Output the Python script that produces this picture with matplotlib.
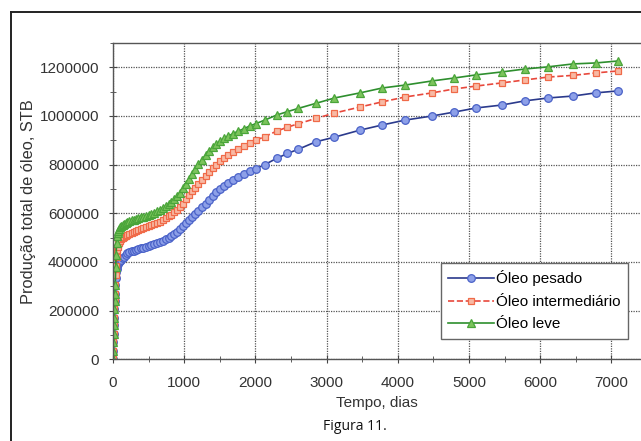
import numpy as np
import matplotlib.pyplot as plt
from matplotlib.lines import Line2D
from matplotlib.ticker import MultipleLocator, FormatStrFormatter

plt.rcParams['font.family'] = ['Liberation Sans', 'DejaVu Sans']

# tempo (dias) dos passos de simulacao
tempo = [0, 3, 6, 9, 12, 15, 19, 23, 27, 32, 38, 44, 50, 58, 66, 75, 88, 102, 118, 135,
         155, 178, 203, 230, 260, 290, 320, 355, 390, 425, 460, 500, 540, 580, 620, 660,
         700, 740, 780, 820, 860, 900, 940, 980, 1020, 1065, 1110, 1155, 1200, 1250, 1300,
         1350, 1400, 1450, 1500, 1560, 1620, 1690, 1760, 1840, 1920, 2010, 2130, 2300,
         2450, 2600, 2850, 3110, 3470, 3780, 4100, 4480, 4790, 5100, 5460, 5780, 6110,
         6460, 6780, 7090]

# producao acumulada em milhares de STB
pesado = [0, 35, 70, 105, 140, 170, 205, 240, 270, 305, 335, 358, 372, 383, 391, 397, 401,
          405, 410, 415, 421, 428, 436, 440, 444, 447, 450, 452, 456, 459, 462, 466, 470,
          474, 478, 482, 488, 494, 500, 507, 515, 525, 537, 549, 560, 571, 583, 596, 609,
          625, 640, 656, 672, 686, 700, 713, 726, 738, 750, 762, 772, 784, 800, 826, 846,
          863, 894, 913, 942, 963, 983, 1000, 1016, 1033, 1045, 1062, 1074, 1082, 1095, 1103]
intermediario = [0, 35, 70, 105, 140, 170, 205, 240, 270, 305, 345, 385, 420, 448, 462, 472,
                 480, 487, 493, 498, 502, 506, 510, 515, 520, 525, 529, 532, 536, 540, 544,
                 548, 552, 556, 560, 566, 572, 579, 587, 595, 604, 614, 626, 640, 657, 674,
                 691, 706, 720, 736, 752, 769, 785, 800, 815, 829, 841, 853, 865, 877, 889,
                 901, 915, 938, 954, 968, 990, 1012, 1037, 1058, 1078, 1095, 1111, 1123, 1136,
                 1148, 1160, 1167, 1177, 1185]
leve = [0, 35, 70, 105, 140, 170, 205, 240, 270, 305, 380, 430, 480, 505, 518, 527, 535,
        542, 548, 553, 557, 561, 565, 568, 571, 574, 577, 580, 583, 586, 589, 593, 597, 602,
        608, 614, 622, 630, 639, 648, 659, 671, 685, 703, 722, 742, 762, 782, 801, 821, 840,
        856, 871, 884, 896, 908, 918, 928, 938, 948, 959, 969, 983, 1004, 1018, 1031, 1052,
        1074, 1095, 1115, 1127, 1144, 1156, 1169, 1181, 1193, 1202, 1214, 1218, 1226]

t = np.array(tempo)

fig = plt.figure(figsize=(6.41, 4.41), dpi=100)
W, H = 641.0, 441.0
ax = fig.add_axes([113 / W, 1 - 359.3 / H, (641 - 113) / W, (359.3 - 43) / H])

ax.plot(t, np.array(pesado) * 1000, '-', color='#2b3a8c', lw=1.2, marker='o', ms=5.5,
        mfc='#8da0e8', mec='#4a62c8', mew=0.9, label='Óleo pesado')
ax.plot(t, np.array(intermediario) * 1000, '--', color='#e8483c', lw=1.2, marker='s', ms=5,
        mfc='#f8b9a4', mec='#f06a48', mew=0.9, label='Óleo intermediário')
ax.plot(t, np.array(leve) * 1000, '-', color='#2e8f2e', lw=1.2, marker='^', ms=6,
        mfc='#7cc45c', mec='#4aa53a', mew=0.9, label='Óleo leve')

ax.set_xlim(0, 7415)
ax.set_ylim(0, 1300000)
ax.xaxis.set_major_locator(MultipleLocator(1000))
ax.xaxis.set_minor_locator(MultipleLocator(500))
ax.yaxis.set_major_locator(MultipleLocator(200000))
ax.yaxis.set_minor_locator(MultipleLocator(100000))
ax.yaxis.set_major_formatter(FormatStrFormatter('%d'))
ax.tick_params(which='both', direction='inout', color='#444444', labelcolor='#333333',
               labelsize=11)
ax.tick_params(which='major', length=6)
ax.tick_params(which='minor', length=5)
ax.tick_params(axis='x', pad=9)
ax.tick_params(axis='y', pad=7)
ax.grid(True, which='major', color='#555555', linestyle=(0, (1, 1)), lw=0.9)

for s in ['left', 'bottom', 'top']:
    ax.spines[s].set_color('#555555')
    ax.spines[s].set_linewidth(1)
ax.spines['right'].set_visible(False)

ax.set_xlabel('Tempo, dias', fontsize=11, color='#333333', labelpad=4)
ax.set_ylabel('Produção total de óleo, STB', fontsize=11.8, color='#333333', labelpad=2.5)

leg = ax.legend(loc='upper right', bbox_to_anchor=(0.975, 0.305), fontsize=11,
                frameon=True, fancybox=False, edgecolor='#666666', framealpha=1,
                handlelength=3.0, handletextpad=0.1, borderpad=0.5, labelspacing=0.55,
                borderaxespad=0)
leg.get_frame().set_linewidth(1.0)

# moldura da figura
fig.add_artist(Line2D([11 / W, 11 / W], [0, 1 - 12 / H], color='#222222', lw=1.4))
fig.add_artist(Line2D([11 / W, 1], [1 - 12 / H, 1 - 12 / H], color='#222222', lw=1.4))

fig.text(355 / W, 1 - 427 / H, 'Figura 11.', ha='center', va='center', fontsize=10,
         family=['Open Sans', 'DejaVu Sans'], color='#111111')

fig.savefig('out.png', dpi=100)
